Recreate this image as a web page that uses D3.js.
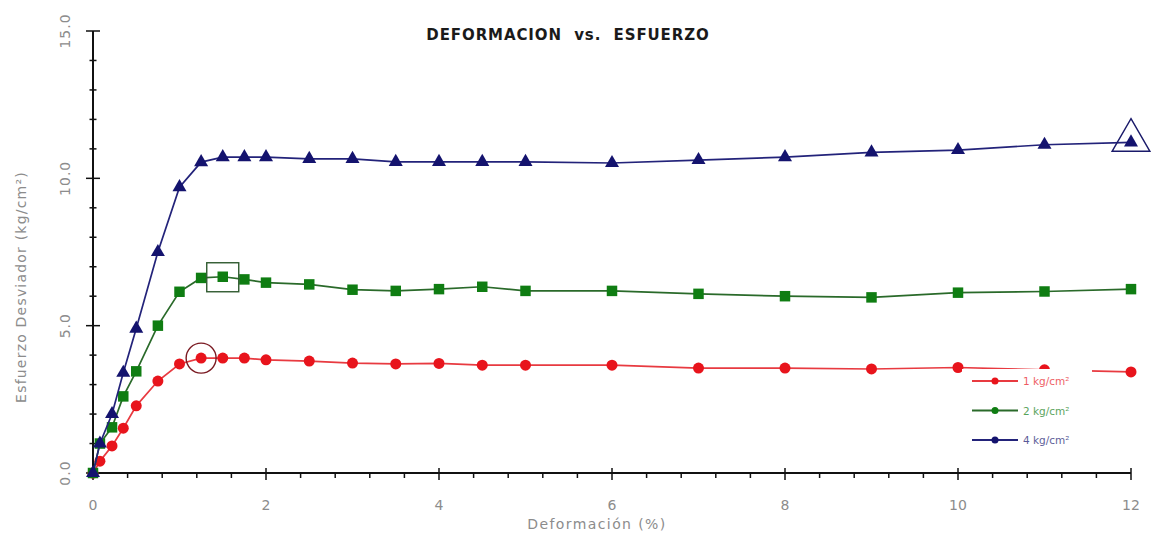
<!DOCTYPE html>
<html>
<head>
<meta charset="utf-8">
<script src="https://cdn.jsdelivr.net/npm/d3@7"></script>
<style>
  body { margin: 0; background: #fff; }
  svg { display: block; font-family: "DejaVu Sans", Verdana, sans-serif; }
</style>
</head>
<body>
<svg id="chart" width="1153" height="538"></svg>
<script>
// Strain (%) shared by the three tests
const deformacion = [0, 0.08, 0.22, 0.35, 0.5, 0.75, 1, 1.25, 1.5, 1.75, 2, 2.5, 3, 3.5, 4, 4.5, 5, 6, 7, 8, 9, 10, 11, 12];

// Deviator stress (kg/cm²) per confining pressure
const esfuerzo1 = [0, 0.4, 0.92, 1.52, 2.28, 3.12, 3.7, 3.9, 3.9, 3.9, 3.84, 3.8, 3.73, 3.7, 3.72, 3.66, 3.66, 3.66, 3.56, 3.56, 3.53, 3.58, 3.5, 3.43];
const esfuerzo2 = [0, 1.0, 1.55, 2.6, 3.45, 5.0, 6.15, 6.62, 6.66, 6.57, 6.46, 6.4, 6.22, 6.18, 6.24, 6.32, 6.18, 6.18, 6.08, 6.0, 5.96, 6.12, 6.16, 6.24];
const esfuerzo4 = [0, 1.0, 2.0, 3.4, 4.9, 7.5, 9.7, 10.55, 10.72, 10.72, 10.72, 10.66, 10.66, 10.56, 10.56, 10.56, 10.56, 10.52, 10.62, 10.72, 10.88, 10.96, 11.14, 11.22];

const seriesNames = ["1 kg/cm²", "2 kg/cm²", "4 kg/cm²"];
// Index of the failure point marked on each curve
const fallaIdx = [7, 8, 23];

const xTicks = [0, 2, 4, 6, 8, 10, 12];
const yTicks = [0, 5, 10, 15];

const svg = d3.select("#chart");
const x = d3.scaleLinear().domain([0, 12]).range([93, 1131]);
const y = d3.scaleLinear().domain([0, 15]).range([473, 31]);

const gray = "#8c8c8c";

// Title
svg.append("text")
  .attr("x", 568).attr("y", 40)
  .attr("text-anchor", "middle")
  .attr("font-size", 15).attr("font-weight", "bold")
  .attr("letter-spacing", 0.9)
  .attr("fill", "#1a1a1a")
  .attr("xml:space", "preserve")
  .text("DEFORMACION  vs.  ESFUERZO");

// Axes
const axisG = svg.append("g");
axisG.append("line").attr("x1", x(0)).attr("x2", x(0)).attr("y1", y(15)).attr("y2", y(0))
  .attr("stroke", "#111").attr("stroke-width", 2);
axisG.append("line").attr("x1", x(0)).attr("x2", x(12)).attr("y1", y(0)).attr("y2", y(0))
  .attr("stroke", "#111").attr("stroke-width", 2);

// Y ticks: minor every 1, major every 5
d3.range(0, 15.001, 1).forEach(v => {
  const major = Math.abs(v % 5) < 1e-6;
  const len = major ? 7 : 3.5;
  axisG.append("line")
    .attr("x1", x(0) - len).attr("x2", x(0) + len)
    .attr("y1", y(v)).attr("y2", y(v))
    .attr("stroke", "#111").attr("stroke-width", 1.5);
});
// X ticks: minor every 0.4, major every 2
d3.range(0, 30.001, 1).forEach(i => {
  const v = i * 0.4;
  const major = i % 5 === 0;
  axisG.append("line")
    .attr("x1", x(v)).attr("x2", x(v))
    .attr("y1", y(0) - (major ? 5 : 0)).attr("y2", y(0) + (major ? 7 : 5))
    .attr("stroke", "#111").attr("stroke-width", 1.5);
});

// Tick labels
svg.append("g").selectAll("text").data(yTicks).join("text")
  .attr("transform", d => `translate(70,${y(d)}) rotate(-90)`)
  .attr("text-anchor", "middle")
  .attr("font-size", 14).attr("letter-spacing", 1).attr("fill", gray)
  .text(d => d.toFixed(1));

svg.append("g").selectAll("text").data(xTicks).join("text")
  .attr("x", d => x(d)).attr("y", 510)
  .attr("text-anchor", "middle")
  .attr("font-size", 14).attr("fill", gray)
  .text(d => d);

// Axis titles
svg.append("text")
  .attr("x", 597).attr("y", 529)
  .attr("text-anchor", "middle")
  .attr("font-size", 14).attr("letter-spacing", 1.4).attr("fill", gray)
  .text("Deformación (%)");

svg.append("text")
  .attr("transform", `translate(26,${287}) rotate(-90)`)
  .attr("text-anchor", "middle")
  .attr("font-size", 14).attr("letter-spacing", 1.2).attr("fill", gray)
  .text("Esfuerzo Desviador (kg/cm²)");

// Series
const series = [
  { name: seriesNames[0], values: esfuerzo1, color: "#e8141c", line: "#e83a40", shape: d3.symbolCircle, size: 95 },
  { name: seriesNames[1], values: esfuerzo2, color: "#0f7d12", line: "#2a6a2a", shape: d3.symbolSquare, size: 110 },
  { name: seriesNames[2], values: esfuerzo4, color: "#14136e", line: "#23237a", shape: d3.symbolTriangle, size: 85 }
];

const line = d3.line().x(d => x(d[0])).y(d => y(d[1]));

series.forEach((s, si) => {
  const pts = deformacion.map((d, i) => [d, s.values[i]]);
  const g = svg.append("g");
  g.append("path").datum(pts)
    .attr("d", line)
    .attr("fill", "none")
    .attr("stroke", s.line)
    .attr("stroke-width", 1.7);
  g.selectAll("path.m").data(pts).join("path")
    .attr("class", "m")
    .attr("transform", d => `translate(${x(d[0])},${y(d[1])})`)
    .attr("d", d3.symbol().type(s.shape).size(s.size))
    .attr("fill", s.color);
});

// Failure point highlights
const hl = svg.append("g").attr("fill", "none").attr("stroke-width", 1.4);
{
  const i = fallaIdx[0];
  hl.append("circle")
    .attr("cx", x(deformacion[i])).attr("cy", y(esfuerzo1[i])).attr("r", 15)
    .attr("stroke", "#7a1a22");
}
{
  const i = fallaIdx[1];
  hl.append("rect")
    .attr("x", x(deformacion[i]) - 16).attr("y", y(esfuerzo2[i]) - 14)
    .attr("width", 32).attr("height", 29)
    .attr("stroke", "#2f5a2f");
}
{
  const i = fallaIdx[2];
  hl.append("path")
    .attr("transform", `translate(${x(deformacion[i])},${y(esfuerzo4[i]) - 2})`)
    .attr("d", d3.symbol().type(d3.symbolTriangle).size(620))
    .attr("stroke", "#1a1a6a");
}

// Legend
const legend = svg.append("g");
legend.append("rect")
  .attr("x", 962).attr("y", 369).attr("width", 130).attr("height", 88)
  .attr("fill", "#fff");
series.forEach((s, i) => {
  const ly = 381 + i * 29.5;
  legend.append("line")
    .attr("x1", 972).attr("x2", 1018).attr("y1", ly).attr("y2", ly)
    .attr("stroke", s.line).attr("stroke-width", 2);
  legend.append("circle")
    .attr("cx", 995).attr("cy", ly).attr("r", 3.5)
    .attr("fill", s.color);
  legend.append("text")
    .attr("x", 1023).attr("y", ly + 4)
    .attr("font-size", 10.5).attr("fill", s.color)
    .attr("opacity", 0.7)
    .text(s.name);
});
</script>
</body>
</html>
